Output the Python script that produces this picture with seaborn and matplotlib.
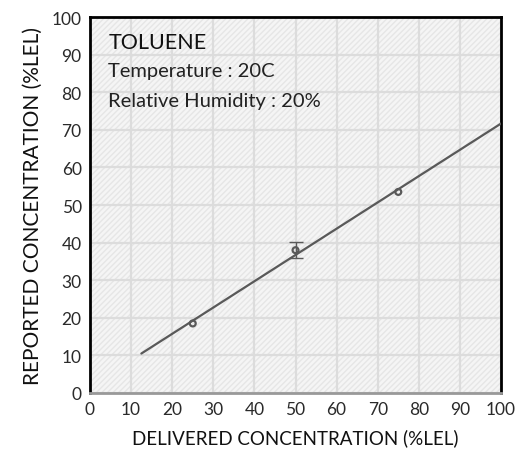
import numpy as np
import pandas as pd
import matplotlib
matplotlib.use("Agg")
import matplotlib.pyplot as plt
import seaborn as sns

# measured points
delivered = [25, 50, 75]
reported = [18.5, 38.0, 53.5]
reported_err = [0.0, 2.2, 0.0]

# linear fit line endpoints
fit_x = [12.5, 100]
fit_y = [10.5, 71.7]

ticks = list(range(0, 101, 10))

sns.set_style("whitegrid")
plt.rcParams['font.family'] = ['Lato', 'DejaVu Sans']

fig = plt.figure(figsize=(5.19, 4.60), dpi=100)
ax = fig.add_axes([0.1734, 0.1435, 0.792, 0.817])

# hatched light background
ax.set_facecolor('#f5f5f5')
bg = plt.Rectangle((0, 0), 1, 1, transform=ax.transAxes, facecolor='none',
                   edgecolor='#e6e6e6', hatch='//////', linewidth=0, zorder=0)
ax.add_patch(bg)

fit = pd.DataFrame({"x": fit_x, "y": fit_y})
sns.lineplot(data=fit, x="x", y="y", ax=ax, color='#595959', linewidth=1.6, zorder=3)

# only draw error bars where there is an error
ex = [x for x, e in zip(delivered, reported_err) if e > 0]
ey = [y for y, e in zip(reported, reported_err) if e > 0]
ee = [e for e in reported_err if e > 0]
ax.errorbar(ex, ey, yerr=ee, fmt='none', ecolor='#595959',
            elinewidth=1.0, capsize=5, zorder=4)

pts = pd.DataFrame({"x": delivered, "y": reported})
sns.scatterplot(data=pts, x="x", y="y", ax=ax, s=18, facecolor='none',
                edgecolor='#595959', linewidth=1.6, zorder=5)

ax.set_xlim(0, 100)
ax.set_ylim(0, 100)
ax.set_xticks(ticks)
ax.set_yticks(ticks)
ax.tick_params(labelsize=12.5, colors='#2a2a2a', length=0, pad=6)
ax.grid(True, color='#dcdcdc', linewidth=1.6)
ax.set_axisbelow(True)

for side in ['top', 'left', 'right']:
    ax.spines[side].set_color('black')
    ax.spines[side].set_linewidth(2)
ax.spines['bottom'].set_color('#999999')
ax.spines['bottom'].set_linewidth(2)

ax.set_xlabel("DELIVERED CONCENTRATION (%LEL)", fontsize=13.5, color='#111111', labelpad=8)
ax.set_ylabel("REPORTED CONCENTRATION (%LEL)", fontsize=15, color='#111111', labelpad=6)

ax.text(0.045, 0.96, "TOLUENE", transform=ax.transAxes, fontsize=15.5,
        va='top', ha='left', color='#111111')
ax.text(0.045, 0.88, "Temperature : 20C", transform=ax.transAxes, fontsize=14.5,
        va='top', ha='left', color='#222222')
ax.text(0.045, 0.80, "Relative Humidity : 20%", transform=ax.transAxes, fontsize=14.5,
        va='top', ha='left', color='#222222')

fig.savefig("out.png", dpi=100)
